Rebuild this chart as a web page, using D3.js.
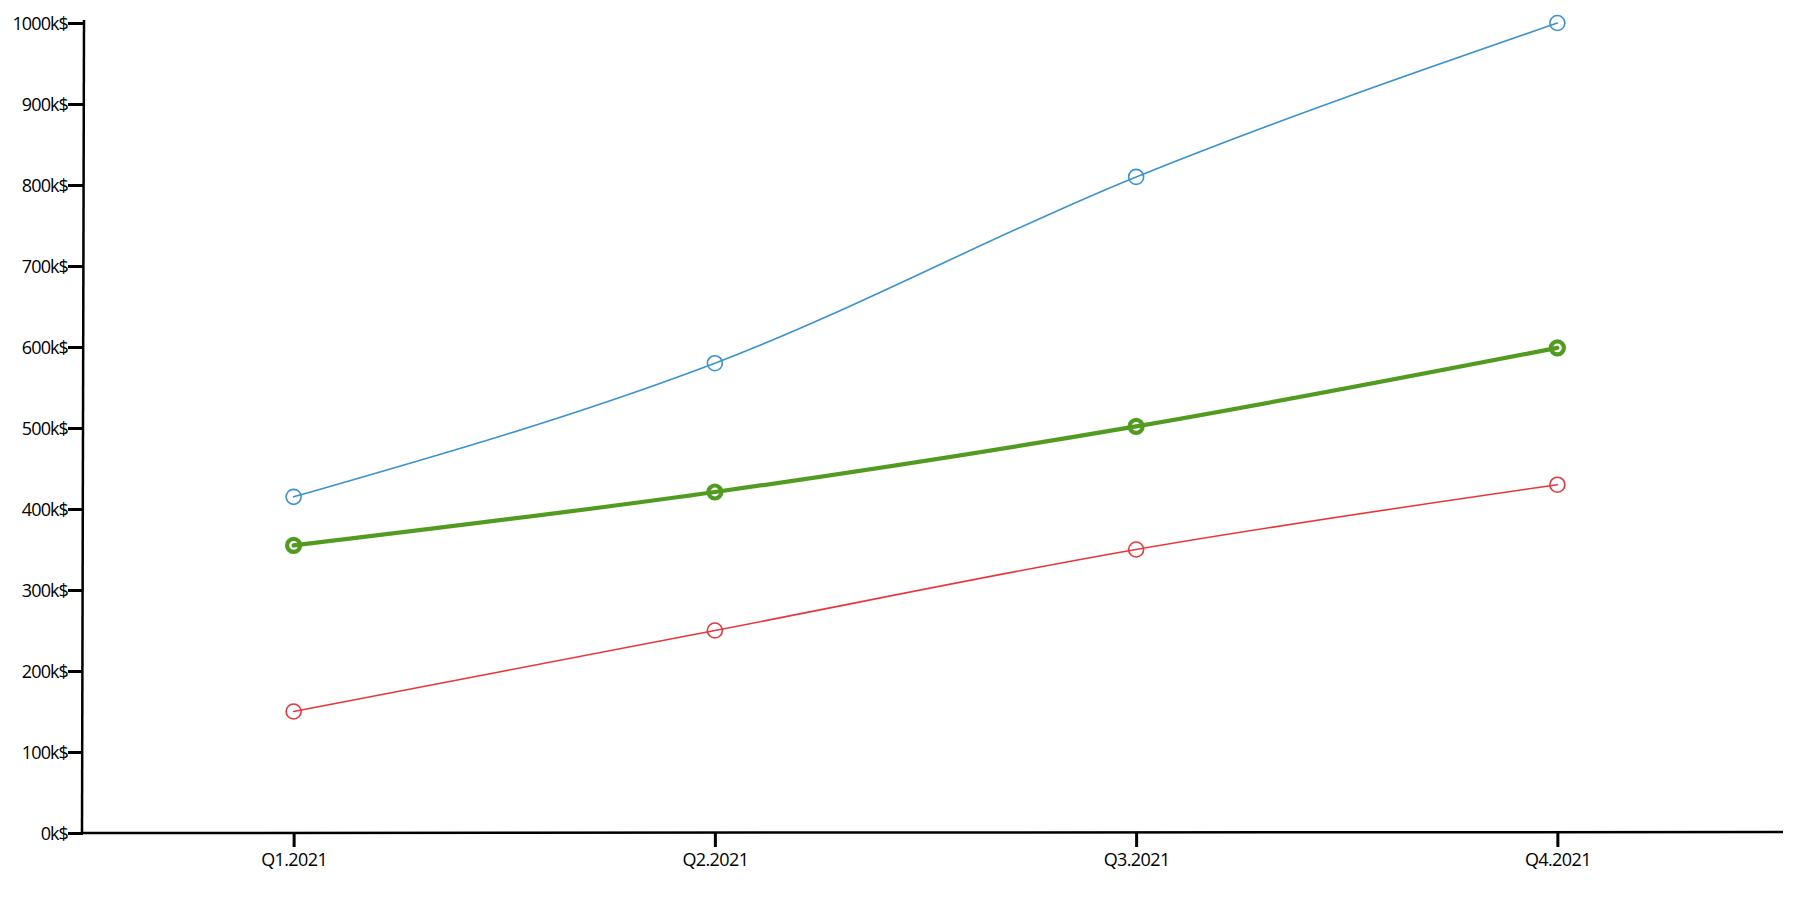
<!DOCTYPE html>
<html>
<head>
<meta charset="utf-8">
<script src="https://cdn.jsdelivr.net/npm/d3@7"></script>
<style>
  html, body { margin: 0; padding: 0; background: #fff; overflow: hidden; }
  text { font-family: "Open Sans", Lato, sans-serif; fill: #000; }
</style>
</head>
<body>
<svg id="chart" width="1800" height="899"></svg>
<script>
"use strict";

// quarters on the x axis
var quarters = [ "Q1.2021", "Q2.2021", "Q3.2021", "Q4.2021" ];

// series values, in k$
var blueValues  = [ 415, 580, 810, 1000 ];
var greenValues = [ 355, 421, 502, 599 ];
var redValues   = [ 150, 250, 350, 430 ];

var yTicks = [ 0, 100, 200, 300, 400, 500, 600, 700, 800, 900, 1000 ];

var series = [
  { values: blueValues,  color: "#3a93d0", width: 1.6, r: 7.5 },
  { values: redValues,   color: "#e8363c", width: 1.6, r: 7.5 },
  { values: greenValues, color: "#529b21", width: 4.2, r: 6.5 }
];

var svg = d3.select("#chart");

var x = d3.scalePoint()
  .domain( quarters )
  .range( [ 83, 1768 ] )
  .padding( 0.5 );

var y = d3.scaleLinear()
  .domain( [ 0, 1000 ] )
  .range( [ 833, 23 ] );

var g = svg.append("g");

// y axis
var yAxis = g.append("g")
  .attr("transform", "translate(83,0)")
  .call( d3.axisLeft(y).tickValues(yTicks).tickSize(15).tickFormat(function(d) { return d + "k$" }) );
yAxis.select(".domain").remove();
yAxis.selectAll(".tick line").attr("stroke", "#000").attr("stroke-width", 3);
yAxis.selectAll(".tick text")
  .attr("x", -15).attr("dy", "0.35em")
  .style("font-size", "18px").style("font-family", "'Open Sans', Lato, sans-serif")
  .style("letter-spacing", "-0.9px");
g.append("line")
  .attr("x1", 84).attr("y1", 20).attr("x2", 82).attr("y2", 834)
  .attr("stroke", "#000").attr("stroke-width", 2.5);

// x axis
var xAxis = g.append("g")
  .attr("transform", "translate(0,833)")
  .call( d3.axisBottom(x).tickSize(14) );
xAxis.select(".domain").remove();
xAxis.selectAll(".tick line").attr("stroke", "#000").attr("stroke-width", 3);
xAxis.selectAll(".tick text")
  .attr("y", 20).attr("dy", "0.71em")
  .style("font-size", "18px").style("font-family", "'Open Sans', Lato, sans-serif")
  .style("letter-spacing", "-0.6px");
g.append("line")
  .attr("x1", 82).attr("y1", 833).attr("x2", 1783).attr("y2", 832)
  .attr("stroke", "#000").attr("stroke-width", 2.5);

// lines
var line = d3.line()
  .x( function(d, i) { return x(quarters[i]) } )
  .y( function(d) { return y(d) } )
  .curve( d3.curveMonotoneX );

var sg = g.selectAll("g.series")
  .data( series )
  .enter().append("g").attr("class", "series");

sg.append("path")
  .attr("d", function(d) { return line(d.values) })
  .attr("fill", "none")
  .attr("stroke", function(d) { return d.color })
  .attr("stroke-width", function(d) { return d.width })
  .attr("stroke-linecap", "round");

// points
sg.each(function(s) {
  d3.select(this).selectAll("circle")
    .data( s.values )
    .enter().append("circle")
    .attr("cx", function(d, i) { return x(quarters[i]) })
    .attr("cy", function(d) { return y(d) })
    .attr("r", s.r)
    .attr("fill", "none")
    .attr("stroke", s.color)
    .attr("stroke-width", s.width);
});
</script>
</body>
</html>
